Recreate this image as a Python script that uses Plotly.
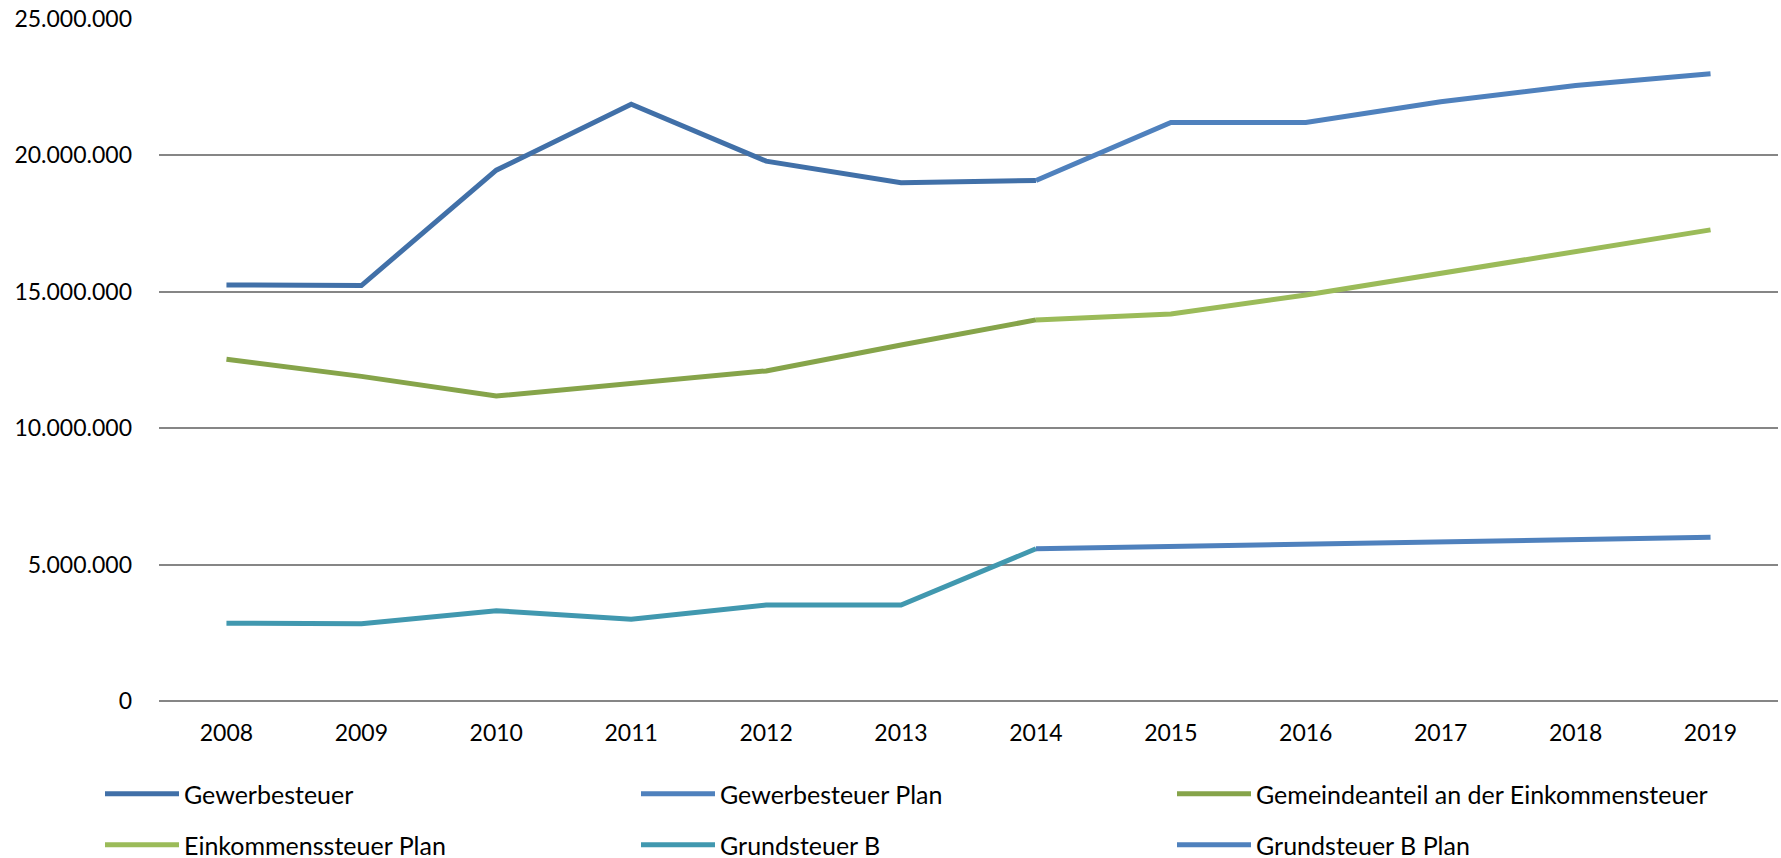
import plotly.graph_objects as go

years = ["2008", "2009", "2010", "2011", "2012", "2013", "2014", "2015", "2016", "2017", "2018", "2019"]

gewerbesteuer = [15250000, 15230000, 19460000, 21875000, 19790000, 19000000, 19080000, None, None, None, None, None]
gewerbesteuer_plan = [None, None, None, None, None, None, 19080000, 21210000, 21210000, 21970000, 22560000, 22990000]
gemeindeanteil = [12530000, 11900000, 11180000, 11640000, 12100000, 13050000, 13970000, None, None, None, None, None]
einkommen_plan = [None, None, None, None, None, None, 13970000, 14190000, 14880000, 15680000, 16470000, 17270000]
grundsteuer_b = [2850000, 2830000, 3310000, 3000000, 3520000, 3520000, 5580000, None, None, None, None, None]
grundsteuer_b_plan = [None, None, None, None, None, None, 5580000, 5670000, 5750000, 5830000, 5920000, 6000000]

series = [
    ("Gewerbesteuer", gewerbesteuer, "#4170A8", "legend"),
    ("Gewerbesteuer Plan", gewerbesteuer_plan, "#4F81BD", "legend"),
    ("Gemeindeanteil an der Einkommensteuer", gemeindeanteil, "#86A44A", "legend"),
    ("Einkommenssteuer Plan", einkommen_plan, "#9BBB59", "legend2"),
    ("Grundsteuer B", grundsteuer_b, "#4198AF", "legend2"),
    ("Grundsteuer B Plan", grundsteuer_b_plan, "#4F81BD", "legend2"),
]

FONT = "Lato, Carlito, 'Open Sans', sans-serif"
TICK_FS = 23
LEG_FS = 25

fig = go.Figure()
for name, vals, color, leg in series:
    fig.add_trace(go.Scatter(
        x=years, y=vals, name=name, mode="lines",
        line=dict(color=color, width=5, shape="linear"),
        connectgaps=False, legend=leg,
    ))

W, H = 1781, 858
L, R, T, B = 159, 3, 19, 157
pw = W - L - R
ph = H - T - B

def px_x(x):
    return (x - L) / pw

def px_y(y):
    return (H - B - y) / ph

legend_common = dict(
    orientation="h",
    xanchor="left", yanchor="middle",
    font=dict(family=FONT, size=LEG_FS, color="#000000"),
    entrywidth=447, entrywidthmode="pixels",
    itemwidth=74,
    bgcolor="rgba(0,0,0,0)",
    traceorder="normal",
)

fig.update_layout(
    width=W, height=H,
    margin=dict(l=L, r=R, t=T, b=B, autoexpand=False),
    paper_bgcolor="white", plot_bgcolor="white",
    separators=",.",
    font=dict(family=FONT, size=TICK_FS, color="#000000"),
    showlegend=True,
    legend=dict(x=px_x(100), y=px_y(794), **legend_common),
    legend2=dict(x=px_x(100), y=px_y(845), **legend_common),
    xaxis=dict(
        type="category", range=[-0.5, 11.5],
        showgrid=False, showline=False, zeroline=False,
        ticks="", tickfont=dict(family=FONT, size=TICK_FS, color="#000000"),
        ticklabelstandoff=16,
    ),
    yaxis=dict(
        range=[0, 25000000], dtick=5000000, tick0=0,
        tickformat=",d",
        showgrid=True, gridcolor="#868686", gridwidth=1.5,
        zeroline=True, zerolinecolor="#868686", zerolinewidth=1.5,
        showline=False, ticks="",
        tickfont=dict(family=FONT, size=TICK_FS, color="#000000"),
        ticklabelstandoff=26,
    ),
)

fig.write_html(
    "out.html",
    config={"displayModeBar": False},
    post_script="document.body.style.margin='0';document.body.style.overflow='hidden';",
)
